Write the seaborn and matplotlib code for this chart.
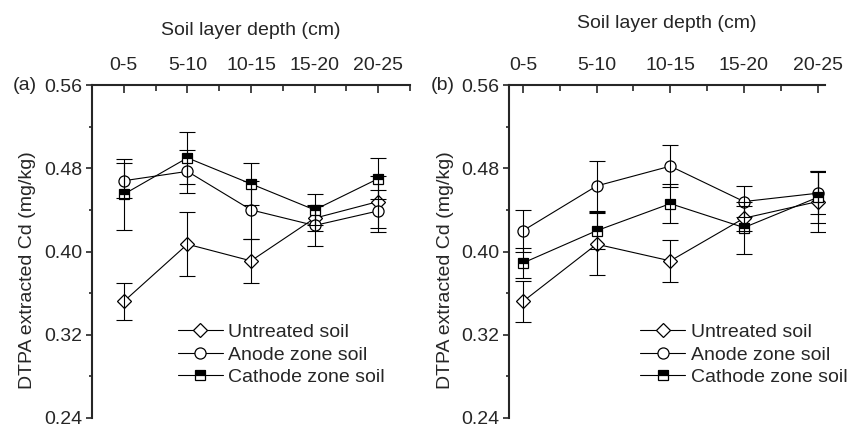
"""DTPA extracted Cd by soil layer depth, two panels"""

import pandas as pd
import seaborn as sns
import matplotlib as mpl
import matplotlib.pyplot as plt
from matplotlib.ticker import FixedLocator, MultipleLocator

mpl.use("agg")  # no display

DEPTHS = ["0-5", "5-10", "10-15", "15-20", "20-25"]
DEPTH_MID = [2.5, 7.5, 12.5, 17.5, 22.5]
SERIES = ["Untreated soil", "Anode zone soil", "Cathode zone soil"]

# panel (a)
untreated_a = [0.352, 0.407, 0.391, 0.432, 0.448]
untreated_a_err = [0.018, 0.031, 0.021, 0.012, 0.025]
anode_a = [0.468, 0.477, 0.440, 0.425, 0.439]
anode_a_err = [0.017, 0.021, 0.028, 0.020, 0.020]
cathode_a = [0.455, 0.490, 0.465, 0.440, 0.470]
cathode_a_err = [0.034, 0.025, 0.020, 0.015, 0.020]

# panel (b)
untreated_b = [0.352, 0.407, 0.391, 0.432, 0.448]
untreated_b_err = [0.020, 0.030, 0.020, 0.012, 0.029]
anode_b = [0.420, 0.463, 0.482, 0.448, 0.456]
anode_b_err = [0.020, 0.024, 0.020, 0.015, 0.020]
cathode_b = [0.389, 0.420, 0.446, 0.423, 0.452]
cathode_b_err = [0.014, 0.018, 0.019, 0.025, 0.025]

STYLES = {
    "Untreated soil": dict(marker="D", markersize=7, markerfacecolor="white"),
    "Anode zone soil": dict(marker="o", markersize=8, markerfacecolor="white"),
    "Cathode zone soil": dict(marker="s", markersize=7.5, fillstyle="top",
                              markerfacecolor="black",
                              markerfacecoloralt="white"),
}

sns.set_style("ticks")
plt.rcParams["font.family"] = ["Liberation Sans", "DejaVu Sans"]
plt.rcParams["font.size"] = 14


def draw_panel(ax, means, errs, xlim, tag, legend_x, xlabel_pad):
    for name, y, e in zip(SERIES, means, errs):
        df = pd.DataFrame({"depth": DEPTH_MID, "cd": y})
        sns.lineplot(data=df, x="depth", y="cd", ax=ax, color="black",
                     linewidth=0.8, label=name, markeredgecolor="black",
                     markeredgewidth=0.9, zorder=2, **STYLES[name])
        ax.errorbar(DEPTH_MID, y, yerr=e, fmt="none", ecolor="black",
                    elinewidth=0.8, capsize=6, capthick=0.8, zorder=3)

    ax.set_xlim(*xlim)
    ax.set_ylim(0.24, 0.56)

    ax.xaxis.tick_top()
    ax.xaxis.set_label_position("top")
    ax.set_xticks(DEPTH_MID)
    ax.set_xticklabels(DEPTHS)
    ax.xaxis.set_minor_locator(FixedLocator([0, 5, 10, 15, 20, 25]))
    ax.set_yticks([0.24, 0.32, 0.40, 0.48, 0.56])
    ax.set_yticklabels([f"{v:.2f}" for v in [0.24, 0.32, 0.40, 0.48, 0.56]])
    ax.yaxis.set_minor_locator(MultipleLocator(0.04))

    ax.tick_params(axis="x", which="major", direction="in", length=6,
                   width=1.2, pad=8, labelsize=14)
    ax.tick_params(axis="x", which="minor", direction="in", length=4.5,
                   width=1.2)
    ax.tick_params(axis="y", which="major", direction="out", length=4,
                   width=1.2, pad=3, labelsize=14)
    ax.tick_params(axis="y", which="minor", direction="out", length=2.5,
                   width=1.2)

    for side in ("right", "bottom"):
        ax.spines[side].set_visible(False)
    for side in ("left", "top"):
        ax.spines[side].set_linewidth(1.5)

    ax.set_xlabel("Soil layer depth (cm)", labelpad=xlabel_pad)
    ax.set_ylabel("DTPA extracted Cd (mg/kg)")
    ax.yaxis.set_label_coords(-0.175, 0.443)

    ax.text(-0.248, 1.0, tag, transform=ax.transAxes, ha="left", va="center")

    ax.legend(loc="center left", bbox_to_anchor=(legend_x, 0.19),
              frameon=False, handlelength=2.3, handletextpad=0.3,
              labelspacing=0.25, borderpad=0, borderaxespad=0, fontsize=14)


fig = plt.figure(figsize=(8.58, 4.29), dpi=100)
ax_a = fig.add_axes([92 / 858, 11 / 429, 318 / 858, 333 / 429])
ax_b = fig.add_axes([509 / 858, 11 / 429, 316 / 858, 333 / 429])

draw_panel(ax_a,
           [untreated_a, anode_a, cathode_a],
           [untreated_a_err, anode_a_err, cathode_a_err],
           (0, 25), "(a)", 0.27, 16)
draw_panel(ax_b,
           [untreated_b, anode_b, cathode_b],
           [untreated_b_err, anode_b_err, cathode_b_err],
           (1.55, 23), "(b)", 0.415, 21)

fig.savefig("out.png", dpi=100, facecolor="white")
plt.close(fig)
